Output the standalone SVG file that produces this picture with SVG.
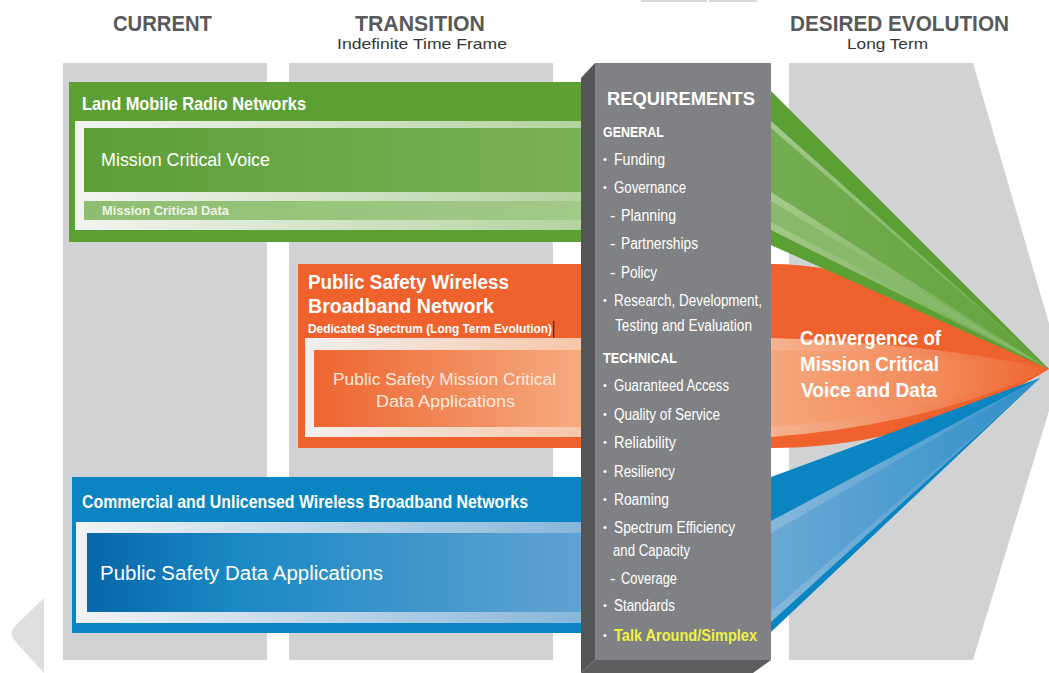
<svg xmlns="http://www.w3.org/2000/svg" width="1049" height="673" viewBox="0 0 1049 673">
  <style>
    .cond { font-family: "Liberation Sans Narrow", "Liberation Sans", Arial, sans-serif; }
    .reg { font-family: "Liberation Sans", Arial, sans-serif; }
    .hdr { font-weight: 700; fill: #58595b; }
    .w { fill: #ffffff; }
    .b { font-weight: 700; }
    .req { fill: #ffffff; font-size: 16px; }
    .bul { fill: #ffffff; font-size: 11px; }
    .col { fill: #d1d2d4; }
  </style>
  <defs>
    <linearGradient id="gFrame" x1="0" y1="0" x2="1" y2="0">
      <stop offset="0" stop-color="#f3f4f1"/>
      <stop offset="1" stop-color="#b3d39f"/>
    </linearGradient>
    <linearGradient id="gVoice" x1="0" y1="0" x2="1" y2="0">
      <stop offset="0" stop-color="#5d9f37"/>
      <stop offset="1" stop-color="#7ab159"/>
    </linearGradient>
    <linearGradient id="gData" x1="0" y1="0" x2="1" y2="0">
      <stop offset="0" stop-color="#8fbe72"/>
      <stop offset="1" stop-color="#a2ca88"/>
    </linearGradient>
    <linearGradient id="oFrame" x1="0" y1="0" x2="1" y2="0">
      <stop offset="0" stop-color="#f1f0ef"/>
      <stop offset="1" stop-color="#f7c6a8"/>
    </linearGradient>
    <linearGradient id="oInner" x1="0" y1="0" x2="1" y2="0">
      <stop offset="0" stop-color="#ee6530"/>
      <stop offset="1" stop-color="#f5ac82"/>
    </linearGradient>
    <linearGradient id="bFrame" x1="0" y1="0" x2="1" y2="0">
      <stop offset="0" stop-color="#f2f3f4"/>
      <stop offset="1" stop-color="#86b6da"/>
    </linearGradient>
    <linearGradient id="bInner" x1="0" y1="0" x2="1" y2="0">
      <stop offset="0" stop-color="#0866a9"/>
      <stop offset="0.3" stop-color="#1a89c4"/>
      <stop offset="1" stop-color="#62a2d1"/>
    </linearGradient>
    <!-- fan fills fade toward the convergence point -->
    <linearGradient id="fanPeachEdge" x1="771" y1="0" x2="1049" y2="0" gradientUnits="userSpaceOnUse">
      <stop offset="0" stop-color="#f5b390"/>
      <stop offset="1" stop-color="#ef6630"/>
    </linearGradient>
    <linearGradient id="fanPeach" x1="771" y1="0" x2="1049" y2="0" gradientUnits="userSpaceOnUse">
      <stop offset="0" stop-color="#f5a67c"/>
      <stop offset="0.6" stop-color="#f28a5a"/>
      <stop offset="1" stop-color="#ef6630"/>
    </linearGradient>
    <linearGradient id="fanGreenEdge" x1="771" y1="0" x2="1049" y2="0" gradientUnits="userSpaceOnUse">
      <stop offset="0" stop-color="#a3c98a"/>
      <stop offset="1" stop-color="#6aa846"/>
    </linearGradient>
    <linearGradient id="fanGreen" x1="771" y1="0" x2="1049" y2="0" gradientUnits="userSpaceOnUse">
      <stop offset="0" stop-color="#74ad52"/>
      <stop offset="1" stop-color="#62a33c"/>
    </linearGradient>
    <linearGradient id="fanBlueEdge" x1="771" y1="0" x2="1049" y2="0" gradientUnits="userSpaceOnUse">
      <stop offset="0" stop-color="#86b7dc"/>
      <stop offset="1" stop-color="#3a95ca"/>
    </linearGradient>
    <linearGradient id="fanBlue" x1="771" y1="0" x2="1049" y2="0" gradientUnits="userSpaceOnUse">
      <stop offset="0" stop-color="#6aa8d5"/>
      <stop offset="1" stop-color="#2d8fc7"/>
    </linearGradient>
  </defs>

  <!-- background columns and chevrons -->
  <g id="background">
    <rect x="641" y="0" width="66" height="2" fill="#d8d8d8"/>
    <rect x="709" y="0" width="48" height="2" fill="#d8d8d8"/>
    <rect class="col" x="63" y="63" width="204" height="597"/>
    <rect class="col" x="289" y="63" width="264" height="597"/>
    <polygon class="col" points="789,63 973,63 1062,368 973,660 789,660"/>
    <path d="M44,598 L14,627 Q9,633 14,640 L44,673 Z" fill="#dedfe0"/>
  </g>

  <!-- column headings -->
  <g id="headings">
    <text class="cond hdr" x="113" y="31" font-size="22" textLength="99" lengthAdjust="spacingAndGlyphs">CURRENT</text>
    <text class="cond hdr" x="355" y="31" font-size="22" textLength="130" lengthAdjust="spacingAndGlyphs">TRANSITION</text>
    <text class="cond" x="337" y="49" font-size="15" fill="#333436" textLength="170" lengthAdjust="spacingAndGlyphs">Indefinite Time Frame</text>
    <text class="cond hdr" x="790" y="31" font-size="22" textLength="219" lengthAdjust="spacingAndGlyphs">DESIRED EVOLUTION</text>
    <text class="cond" x="847" y="49" font-size="15" fill="#333436" textLength="81" lengthAdjust="spacingAndGlyphs">Long Term</text>
  </g>

  <!-- tapering bands converging on the evolution point -->
  <g id="connectors">
    <!-- broadband network band -->
    <path d="M585,264 H771 C860,264 960,305 1049,369 C960,425 860,448 771,448 H585 Z" fill="#ef622d"/>
    <path d="M585,338 H771 Q930,343 1049,369 Q930,425 771,437 H585 Z" fill="url(#fanPeachEdge)"/>
    <path d="M585,350 H771 Q930,352 1049,369 Q930,415 771,427 H585 Z" fill="url(#fanPeach)"/>
    <!-- land mobile radio band -->
    <path d="M585,82 H762 L1049,369 L764,242 H585 Z" fill="#5b9f35"/>
    <path d="M585,121 H771 L1049,369 L771,230 H585 Z" fill="url(#fanGreenEdge)"/>
    <path d="M585,128 H771 L1049,369 L771,192 H585 Z" fill="url(#fanGreen)"/>
    <path d="M585,201 H771 L1049,369 L771,222 H585 Z" fill="#86b969"/>
    <!-- commercial broadband band -->
    <path d="M585,477 H771 L1040,378 L771,632 H585 Z" fill="#0a85c2"/>
    <path d="M585,521 H771 L1040,378 L771,622 H585 Z" fill="url(#fanBlueEdge)"/>
    <path d="M585,533 H771 L1040,378 L771,612 H585 Z" fill="url(#fanBlue)"/>
  </g>

  <!-- Land Mobile Radio Networks -->
  <g id="lmr">
    <rect x="69" y="82" width="516" height="160" fill="#5b9f35"/>
    <rect x="75" y="121" width="510" height="109" fill="url(#gFrame)"/>
    <rect x="84" y="128" width="501" height="64" fill="url(#gVoice)"/>
    <rect x="84" y="201" width="501" height="19" fill="url(#gData)"/>
    <text class="cond w b" x="82" y="110" font-size="19" textLength="224" lengthAdjust="spacingAndGlyphs">Land Mobile Radio Networks</text>
    <text class="reg w" x="101" y="166" font-size="18.5" textLength="169" lengthAdjust="spacingAndGlyphs">Mission Critical Voice</text>
    <text class="reg b" x="102" y="215" font-size="12" fill="#eef5e8" textLength="127" lengthAdjust="spacingAndGlyphs">Mission Critical Data</text>
  </g>

  <!-- Public Safety Wireless Broadband Network -->
  <g id="psbn">
    <rect x="298" y="264" width="287" height="184" fill="#ef622d"/>
    <rect x="305" y="338" width="280" height="99" fill="url(#oFrame)"/>
    <rect x="314" y="350" width="271" height="77" fill="url(#oInner)"/>
    <text class="reg w b" x="308" y="289" font-size="21" textLength="201" lengthAdjust="spacingAndGlyphs">Public Safety Wireless</text>
    <text class="reg w b" x="308" y="313" font-size="21" textLength="186" lengthAdjust="spacingAndGlyphs">Broadband Network</text>
    <text class="cond w b" x="308" y="333" font-size="13" textLength="244" lengthAdjust="spacingAndGlyphs">Dedicated Spectrum (Long Term Evolution)</text>
    <rect x="553" y="321" width="1.3" height="17" fill="#22384f"/>
    <text class="reg" x="333" y="385" font-size="16" fill="#fdeadf" textLength="223" lengthAdjust="spacingAndGlyphs">Public Safety Mission Critical</text>
    <text class="reg" x="376" y="407" font-size="16" fill="#fdeadf" textLength="139" lengthAdjust="spacingAndGlyphs">Data Applications</text>
  </g>

  <!-- Commercial and Unlicensed Wireless Broadband Networks -->
  <g id="commercial">
    <rect x="72" y="477" width="513" height="156" fill="#0a85c2"/>
    <rect x="76" y="522" width="509" height="101" fill="url(#bFrame)"/>
    <rect x="87" y="533" width="498" height="79" fill="url(#bInner)"/>
    <text class="cond w b" x="82" y="508" font-size="18.5" textLength="446" lengthAdjust="spacingAndGlyphs">Commercial and Unlicensed Wireless Broadband Networks</text>
    <text class="reg w" x="100" y="580" font-size="19.5" textLength="283" lengthAdjust="spacingAndGlyphs">Public Safety Data Applications</text>
  </g>

  <!-- Requirements pillar -->
  <g id="requirements">
    <polygon points="581,78 595,63 595,660 581,673" fill="#545557"/>
    <polygon points="595,660 771,660 753,673 581,673" fill="#5c5d5f"/>
    <rect x="595" y="63" width="176" height="597" fill="#808184"/>
    <text class="cond w b" x="607" y="105" font-size="19" textLength="148" lengthAdjust="spacingAndGlyphs">REQUIREMENTS</text>
    <text class="cond w b" x="603" y="137" font-size="15" textLength="61" lengthAdjust="spacingAndGlyphs">GENERAL</text>
    <text class="cond bul" x="603" y="163">•</text>
    <text class="cond req" x="614" y="165" textLength="51" lengthAdjust="spacingAndGlyphs">Funding</text>
    <text class="cond bul" x="603" y="191">•</text>
    <text class="cond req" x="614" y="193" textLength="72" lengthAdjust="spacingAndGlyphs">Governance</text>
    <text class="cond req" x="610" y="221">-</text>
    <text class="cond req" x="621" y="221" textLength="55" lengthAdjust="spacingAndGlyphs">Planning</text>
    <text class="cond req" x="610" y="249">-</text>
    <text class="cond req" x="621" y="249" textLength="77" lengthAdjust="spacingAndGlyphs">Partnerships</text>
    <text class="cond req" x="610" y="278">-</text>
    <text class="cond req" x="621" y="278" textLength="36" lengthAdjust="spacingAndGlyphs">Policy</text>
    <text class="cond bul" x="603" y="304">•</text>
    <text class="cond req" x="614" y="306" textLength="148" lengthAdjust="spacingAndGlyphs">Research, Development,</text>
    <text class="cond req" x="615" y="331" textLength="137" lengthAdjust="spacingAndGlyphs">Testing and Evaluation</text>
    <text class="cond w b" x="603" y="363" font-size="15" textLength="74" lengthAdjust="spacingAndGlyphs">TECHNICAL</text>
    <text class="cond bul" x="603" y="389">•</text>
    <text class="cond req" x="614" y="391" textLength="115" lengthAdjust="spacingAndGlyphs">Guaranteed Access</text>
    <text class="cond bul" x="603" y="418">•</text>
    <text class="cond req" x="614" y="420" textLength="106" lengthAdjust="spacingAndGlyphs">Quality of Service</text>
    <text class="cond bul" x="603" y="446">•</text>
    <text class="cond req" x="614" y="448" textLength="62" lengthAdjust="spacingAndGlyphs">Reliability</text>
    <text class="cond bul" x="603" y="475">•</text>
    <text class="cond req" x="614" y="477" textLength="61" lengthAdjust="spacingAndGlyphs">Resiliency</text>
    <text class="cond bul" x="603" y="503">•</text>
    <text class="cond req" x="614" y="505" textLength="55" lengthAdjust="spacingAndGlyphs">Roaming</text>
    <text class="cond bul" x="603" y="531">•</text>
    <text class="cond req" x="614" y="533" textLength="121" lengthAdjust="spacingAndGlyphs">Spectrum Efficiency</text>
    <text class="cond req" x="613" y="556" textLength="77" lengthAdjust="spacingAndGlyphs">and Capacity</text>
    <text class="cond req" x="610" y="584">-</text>
    <text class="cond req" x="621" y="584" textLength="56" lengthAdjust="spacingAndGlyphs">Coverage</text>
    <text class="cond bul" x="603" y="609">•</text>
    <text class="cond req" x="614" y="611" textLength="61" lengthAdjust="spacingAndGlyphs">Standards</text>
    <text class="cond bul" x="603" y="639">•</text>
    <text class="cond b" x="614" y="641" font-size="16" fill="#eff244" textLength="143" lengthAdjust="spacingAndGlyphs">Talk Around/Simplex</text>
  </g>

  <!-- Convergence point label -->
  <g id="convergence">
    <text class="reg w b" x="800" y="345" font-size="21" textLength="141" lengthAdjust="spacingAndGlyphs">Convergence of</text>
    <text class="reg w b" x="800" y="371" font-size="21" textLength="139" lengthAdjust="spacingAndGlyphs">Mission Critical</text>
    <text class="reg w b" x="801" y="397" font-size="21" textLength="136" lengthAdjust="spacingAndGlyphs">Voice and Data</text>
  </g>
</svg>
